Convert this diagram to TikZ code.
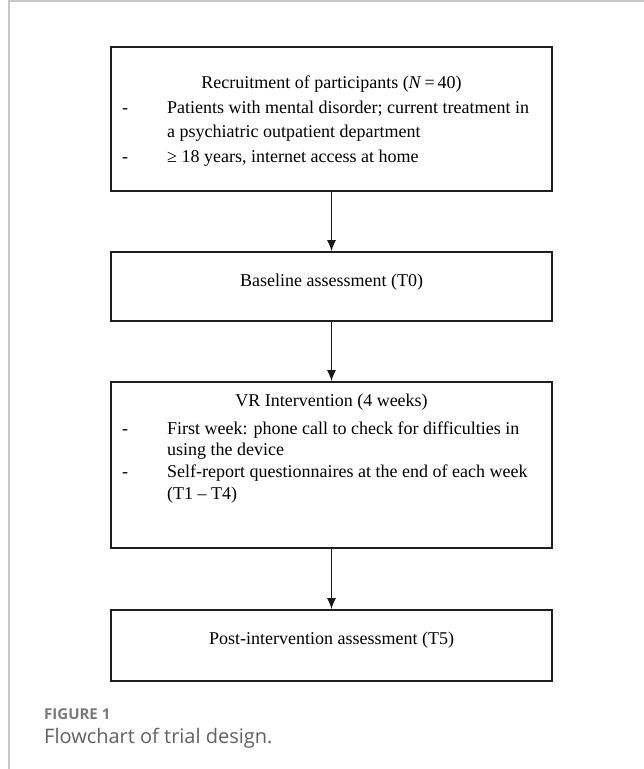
\documentclass[tikz,border=0pt]{standalone}
\usepackage{fontspec}
\setmainfont{Liberation Serif}
\newfontfamily\capfont{Open Sans}
\usetikzlibrary{arrows.meta,positioning}

\begin{document}
\begin{tikzpicture}[x=1pt,y=-1pt,
	stage/.style={draw=black!88, line width=1.8pt, inner sep=0pt, minimum width=441pt},
	flow/.style={->, >={Latex[length=11pt,width=9pt]}, line width=1.3pt, black!90},
	stagetitle/.style={anchor=base, inner sep=0pt, font=\fontsize{18}{24}\selectfont},
	stageitem/.style={anchor=base west, inner sep=0pt, align=left, font=\fontsize{18}{24.5}\selectfont},
	itemdash/.style={anchor=base, inner sep=0pt, font=\fontsize{18}{24}\selectfont}]

	\useasboundingbox (0,0) rectangle (644,769);
	\draw[black!22, line width=1.5pt] (9,769) -- (9,1) -- (644,1);

	% stages of the trial
	\node[stage, minimum height=144pt] (recruit) at (331.5,119) {};
	\node[stage, minimum height=69pt] (baseline) at (331.5,286.5) {};
	\node[stage, minimum height=166pt] (vr) at (331.5,465) {};
	\node[stage, minimum height=71pt] (post) at (331.5,645.5) {};

	% base of a two-line node is its last line
	\node[stagetitle] (recruitT) at (331.5,88) {Recruitment of participants (\textit{N}\,=\,40)};
	\node[itemdash] (recruitD1) at (125,113) {-};
	\node[stageitem] (recruitI1) at (167,137.5) {Patients with mental disorder; current treatment in\\a psychiatric outpatient department};
	\node[itemdash] (recruitD2) at (125,162) {-};
	\node[stageitem] (recruitI2) at (167,162) {≥ 18 years, internet access at home};

	\node[stagetitle] (baselineT) at (331.5,286) {Baseline assessment (T0)};

	\node[stagetitle] (vrT) at (331.5,406) {VR Intervention (4 weeks)};
	\node[itemdash] (vrD1) at (125,434) {-};
	\node[stageitem, font=\fontsize{18}{21.7}\selectfont] (vrI1) at (167,455.7) {First week: phone call to check for difficulties in\\using the device};
	\node[itemdash] (vrD2) at (125,477.4) {-};
	\node[stageitem, font=\fontsize{18}{21.7}\selectfont] (vrI2) at (167,499.1) {Self-report questionnaires at the end of each week\\(T1 – T4)};

	\node[stagetitle] (postT) at (331.5,644) {Post-intervention assessment (T5)};

	\draw[flow] (recruit.south) -- (baseline.north);
	\draw[flow] (baseline.south) -- (vr.north);
	\draw[flow] (vr.south) -- (post.north);

	% caption
	\node[anchor=base west, inner sep=0pt, text=black!52, font=\capfont\bfseries\fontsize{15}{18}\selectfont] (figlabel) at (44,719) {FIGURE 1};
	\node[anchor=base west, inner sep=0pt, text=black!62, font=\capfont\fontsize{20}{24}\selectfont] (figcaption) at (44,743) {Flowchart of trial design.};
\end{tikzpicture}
\end{document}
